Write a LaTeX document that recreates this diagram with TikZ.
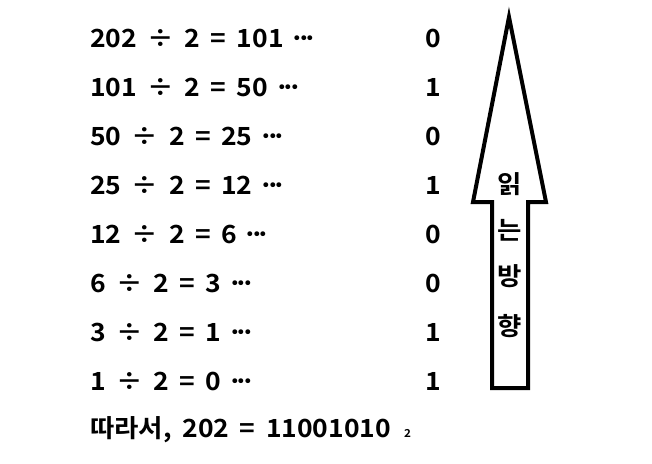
\documentclass[tikz,border=0pt]{standalone}
\usepackage{fontspec}
\setmainfont[WordSpace=1.75,FakeStretch=1.06]{Noto Sans CJK KR Bold}
\newcommand\mydots{\makebox[6.5pt]{·}\makebox[6.5pt]{·}\makebox[6.5pt]{·}}
\begin{document}
\begin{tikzpicture}[x=1pt,y=-1pt,
  eq/.style={anchor=base west,inner sep=0pt,font=\fontsize{25}{25}\selectfont},
  rem/.style={anchor=base,inner sep=0pt,font=\fontsize{25}{25}\selectfont},
  vch/.style={anchor=center,inner sep=0pt,font=\fontsize{25}{25}\selectfont},
  arrowshape/.style={draw=black,line width=4pt,line join=miter,fill=white}]
\useasboundingbox (0,0) rectangle (652,463);
\node[eq] (e1) at (90,47) {202 ÷ 2 = 101 \mydots};
\node[eq] (e2) at (90,96) {101 ÷ 2 = 50 \mydots};
\node[eq] (e3) at (90,145) {50 ÷ 2 = 25 \mydots};
\node[eq] (e4) at (90,194) {25 ÷ 2 = 12 \mydots};
\node[eq] (e5) at (90,243) {12 ÷ 2 = 6 \mydots};
\node[eq] (e6) at (90,292) {6 ÷ 2 = 3 \mydots};
\node[eq] (e7) at (90,341) {3 ÷ 2 = 1 \mydots};
\node[eq] (e8) at (90,390) {1 ÷ 2 = 0 \mydots};
\node[rem] (r1) at (433,47) {0};
\node[rem] (r2) at (433,96) {1};
\node[rem] (r3) at (433,145) {0};
\node[rem] (r4) at (433,194) {1};
\node[rem] (r5) at (433,243) {0};
\node[rem] (r6) at (433,292) {0};
\node[rem] (r7) at (433,341) {1};
\node[rem] (r8) at (433,390) {1};
\node[eq] (res) at (90,437) {따라서, 202 = 11001010\hspace{13pt}{\fontsize{11}{11}\selectfont 2}};
\draw[arrowshape] (509,17) -- (546,202) -- (528,202) -- (528,388) -- (492,388) -- (492,202) -- (473,202) -- cycle;
\node[vch] (c1) at (510,184) {읽};
\node[vch] (c2) at (510,230) {는};
\node[vch] (c3) at (510,276) {방};
\node[vch] (c4) at (510,326) {향};
\end{tikzpicture}
\end{document}
